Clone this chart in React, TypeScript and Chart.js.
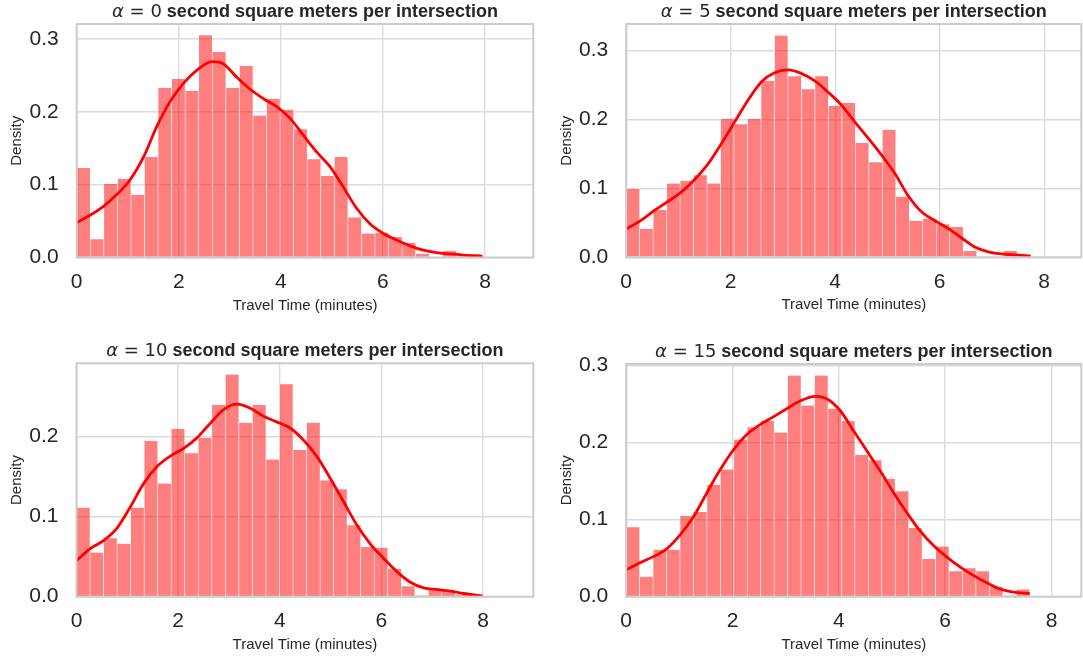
import React, { useEffect, useRef } from "react";
import { Chart, registerables } from "chart.js";

Chart.register(...registerables);

// ---------- data ----------
const alphaValues = [0, 5, 10, 15];
const titleSuffix = "second square meters per intersection";
const xLabel = "Travel Time (minutes)";
const yLabel = "Density";
const xTickStep = 2;
const yTickStep = 0.1;
const binCount = 30;

// data maximum per panel (bins span 0 .. max)
const dataMax = [7.97, 7.74, 7.99, 7.59];

// histogram densities (30 bins each)
const hist0 = [0.123, 0.025, 0.101, 0.108, 0.086, 0.138, 0.233, 0.245, 0.229, 0.305, 0.282, 0.233, 0.263, 0.195, 0.218, 0.203, 0.176, 0.135, 0.112, 0.138, 0.055, 0.033, 0.034, 0.028, 0.020, 0.005, 0.0, 0.009, 0.002, 0.002];
const hist5 = [0.099, 0.041, 0.069, 0.107, 0.111, 0.119, 0.107, 0.201, 0.193, 0.201, 0.256, 0.322, 0.263, 0.244, 0.263, 0.220, 0.224, 0.166, 0.138, 0.185, 0.088, 0.053, 0.056, 0.048, 0.044, 0.009, 0.001, 0.0, 0.009, 0.003];
const hist10 = [0.111, 0.055, 0.073, 0.066, 0.111, 0.194, 0.141, 0.209, 0.179, 0.198, 0.239, 0.277, 0.217, 0.239, 0.171, 0.265, 0.183, 0.217, 0.145, 0.134, 0.089, 0.062, 0.061, 0.035, 0.013, 0.0015, 0.009, 0.008, 0.002, 0.001];
const hist15 = [0.090, 0.026, 0.061, 0.061, 0.105, 0.110, 0.145, 0.165, 0.204, 0.220, 0.228, 0.213, 0.287, 0.248, 0.287, 0.244, 0.228, 0.184, 0.177, 0.153, 0.137, 0.089, 0.049, 0.065, 0.033, 0.037, 0.033, 0.013, 0.0015, 0.0095];

// KDE curves
const kdeX0 = [0.0, 0.26, 0.52, 0.78, 1.04, 1.31, 1.57, 1.83, 2.09, 2.35, 2.65, 2.87, 3.13, 3.40, 3.66, 3.92, 4.18, 4.44, 4.70, 4.96, 5.22, 5.48, 5.75, 6.01, 6.27, 6.53, 6.79, 7.05, 7.31, 7.58, 7.95];
const kdeY0 = [0.048, 0.058, 0.070, 0.086, 0.106, 0.138, 0.180, 0.214, 0.239, 0.257, 0.269, 0.266, 0.248, 0.231, 0.218, 0.207, 0.191, 0.168, 0.145, 0.125, 0.097, 0.068, 0.046, 0.033, 0.024, 0.016, 0.010, 0.0066, 0.005, 0.0034, 0.002];
const kdeX5 = [0.0, 0.29, 0.54, 0.80, 1.06, 1.31, 1.57, 1.82, 2.08, 2.33, 2.59, 2.84, 3.10, 3.35, 3.61, 3.86, 4.12, 4.37, 4.63, 4.88, 5.14, 5.39, 5.65, 5.91, 6.16, 6.42, 6.67, 6.93, 7.18, 7.44, 7.74];
const kdeY5 = [0.041, 0.054, 0.068, 0.081, 0.095, 0.113, 0.136, 0.165, 0.197, 0.228, 0.255, 0.268, 0.272, 0.267, 0.256, 0.240, 0.221, 0.197, 0.173, 0.149, 0.122, 0.090, 0.066, 0.053, 0.042, 0.028, 0.015, 0.008, 0.005, 0.0034, 0.002];
const kdeX10 = [0.0, 0.27, 0.53, 0.79, 1.06, 1.32, 1.58, 1.84, 2.11, 2.37, 2.63, 2.89, 3.16, 3.42, 3.68, 3.94, 4.21, 4.47, 4.73, 4.99, 5.26, 5.52, 5.78, 6.04, 6.31, 6.57, 6.83, 7.09, 7.36, 7.62, 7.99];
const kdeY10 = [0.045, 0.060, 0.070, 0.085, 0.112, 0.141, 0.162, 0.175, 0.185, 0.198, 0.216, 0.233, 0.240, 0.235, 0.225, 0.218, 0.210, 0.195, 0.175, 0.148, 0.118, 0.089, 0.066, 0.048, 0.031, 0.018, 0.011, 0.009, 0.007, 0.004, 0.001];
const kdeX15 = [0.0, 0.26, 0.51, 0.76, 1.01, 1.26, 1.51, 1.76, 2.01, 2.26, 2.51, 2.76, 3.02, 3.27, 3.55, 3.77, 4.02, 4.27, 4.52, 4.77, 5.02, 5.27, 5.52, 5.77, 6.02, 6.27, 6.52, 6.78, 7.03, 7.28, 7.59];
const kdeY15 = [0.035, 0.044, 0.052, 0.062, 0.080, 0.103, 0.134, 0.164, 0.190, 0.210, 0.223, 0.233, 0.244, 0.254, 0.260, 0.257, 0.242, 0.216, 0.190, 0.164, 0.136, 0.110, 0.086, 0.067, 0.052, 0.039, 0.028, 0.018, 0.010, 0.006, 0.004];

// axis limits
const xMaxes = [8.946, 8.71, 8.99, 8.56];
const yMaxes = [0.3206, 0.3387, 0.291, 0.302];

// ---------- styling ----------
const FONT = '"Liberation Sans", Arial, Helvetica, sans-serif';
const TEXT = "#262626";
const GRID = "#dcdcdc";
const FRAME = "#cccccc";

type Geo = {
  left: number; top: number; w: number; h: number;
  l: number; t: number; r: number; b: number;
  xTitlePad: number; yTitlePad: number;
};

const geos: Geo[] = [
  { left: 0, top: 0, w: 541, h: 330, l: 76.7, t: 24, r: 533.3, b: 257.5, xTitlePad: 15.5, yTitlePad: 8.2 },
  { left: 541, top: 0, w: 542, h: 330, l: 85.2, t: 24, r: 540.3, b: 257.3, xTitlePad: 15.7, yTitlePad: 16.7 },
  { left: 0, top: 330, w: 541, h: 332, l: 76.5, t: 33.3, r: 533.3, b: 266.7, xTitlePad: 8.3, yTitlePad: 8.0 },
  { left: 541, top: 330, w: 542, h: 332, l: 85.2, t: 34, r: 540.3, b: 266.7, xTitlePad: 8.3, yTitlePad: 16.7 },
];

const hists = [hist0, hist5, hist10, hist15];
const kdeXs = [kdeX0, kdeX5, kdeX10, kdeX15];
const kdeYs = [kdeY0, kdeY5, kdeY10, kdeY15];

const titlePlugin = {
  id: "mixedTitle",
  afterDraw(chart: any, _args: any, opts: any) {
    const { ctx, chartArea } = chart;
    const cx = (chartArea.left + chartArea.right) / 2;
    const y = chartArea.top - opts.gap;
    const size = opts.size;
    const parts = [
      { text: "\u03b1", font: `italic ${size}px "DejaVu Sans"` },
      { text: " = " + opts.alpha, font: `${size}px "DejaVu Sans"` },
      { text: " " + titleSuffix, font: `bold ${size}px ${FONT}` },
    ];
    ctx.save();
    let total = 0;
    const widths = parts.map((p) => {
      ctx.font = p.font;
      const wd = ctx.measureText(p.text).width;
      total += wd;
      return wd;
    });
    let x = cx - total / 2;
    ctx.fillStyle = TEXT;
    ctx.textBaseline = "alphabetic";
    ctx.textAlign = "left";
    parts.forEach((p, i) => {
      ctx.font = p.font;
      ctx.fillText(p.text, x, y);
      x += widths[i];
    });
    ctx.restore();
  },
};

const framePlugin = {
  id: "frame",
  afterDatasetsDraw(chart: any) {
    const { ctx, chartArea } = chart;
    const { left, top, right, bottom } = chartArea;
    ctx.save();
    ctx.strokeStyle = FRAME;
    ctx.lineWidth = 2;
    ctx.strokeRect(left, top, right - left, bottom - top);
    ctx.restore();
  },
};

function Panel({ idx }: { idx: number }) {
  const ref = useRef<HTMLCanvasElement | null>(null);
  const g = geos[idx];
  useEffect(() => {
    if (!ref.current) return;
    const binW = dataMax[idx] / binCount;
    const bars = hists[idx].map((v, i) => ({ x: (i + 0.5) * binW, y: v }));
    const kde = kdeXs[idx].map((x, i) => ({ x, y: kdeYs[idx][i] }));
    const chart = new Chart(ref.current, {
      type: "bar",
      data: {
        datasets: [
          {
            type: "line",
            data: kde,
            borderColor: "#ff0000",
            borderWidth: 2.8,
            pointRadius: 0,
            tension: 0.4,
            cubicInterpolationMode: "monotone",
            fill: false,
            order: 0,
          } as any,
          {
            type: "bar",
            data: bars,
            backgroundColor: "rgba(255,0,0,0.5)",
            borderColor: "rgba(255,255,255,0.85)",
            borderWidth: { left: 0.6, right: 0.6, top: 0, bottom: 0 },
            borderSkipped: false,
            barPercentage: 1,
            categoryPercentage: 1,
            order: 1,
          } as any,
        ],
      },
      options: {
        animation: false,
        responsive: false,
        maintainAspectRatio: false,
        devicePixelRatio: 1,
        layout: { padding: { left: 0, top: g.t, right: g.w - g.r, bottom: 0 } },
        plugins: {
          legend: { display: false },
          tooltip: { enabled: false },
          mixedTitle: { alpha: alphaValues[idx], size: 18, gap: 7 },
        } as any,
        scales: {
          x: {
            type: "linear",
            min: 0,
            max: xMaxes[idx],
            offset: false,
            grid: { color: GRID, lineWidth: 1.4, drawTicks: false, offset: false },
            border: { display: false },
            ticks: {
              stepSize: xTickStep,
              includeBounds: false,
              autoSkip: false,
              maxRotation: 0,
              padding: 12,
              color: TEXT,
              font: { family: FONT, size: 21 },
              callback: (v: any) => String(v),
            },
            title: {
              display: true,
              text: xLabel,
              color: TEXT,
              font: { family: FONT, size: 15 },
              padding: { top: 0, bottom: g.xTitlePad },
            },
            afterFit: (s: any) => {
              s.height = g.h - g.b;
              s.paddingLeft = 0;
              s.paddingRight = 0;
            },
          },
          y: {
            type: "linear",
            min: 0,
            max: yMaxes[idx],
            grid: { color: GRID, lineWidth: 1.4, drawTicks: false },
            border: { display: false },
            ticks: {
              stepSize: yTickStep,
              includeBounds: false,
              padding: 18,
              color: TEXT,
              font: { family: FONT, size: 21 },
              callback: (v: any) => Number(v).toFixed(1),
            },
            title: {
              display: true,
              text: yLabel,
              color: TEXT,
              font: { family: FONT, size: 15 },
              padding: { top: g.yTitlePad, bottom: 0 },
            },
            afterFit: (s: any) => {
              s.width = g.l;
              s.paddingTop = 0;
              s.paddingBottom = 0;
            },
          },
        },
      } as any,
      plugins: [titlePlugin, framePlugin],
    });
    return () => chart.destroy();
  }, [idx]);
  return (
    <canvas
      ref={ref}
      width={g.w}
      height={g.h}
      style={{ position: "absolute", left: g.left, top: g.top, width: g.w, height: g.h }}
    />
  );
}

export default function App() {
  return (
    <div style={{ position: "absolute", left: 0, top: 0, width: 1083, height: 662, background: "#fff" }}>
      {alphaValues.map((_, i) => (
        <Panel key={i} idx={i} />
      ))}
    </div>
  );
}
